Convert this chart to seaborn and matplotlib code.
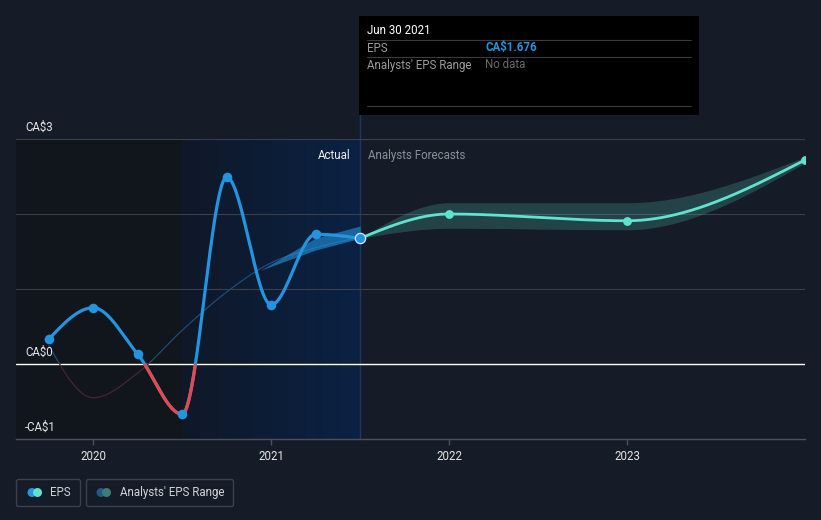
import numpy as np
import pandas as pd
import matplotlib
matplotlib.use("Agg")
import matplotlib.pyplot as plt
import seaborn as sns
from matplotlib.patches import Rectangle, FancyBboxPatch, Circle

# EPS history (quarter ends as decimal years)
eps_dates = [2019.75, 2020.0, 2020.25, 2020.5, 2020.75, 2021.0, 2021.25, 2021.5]
eps_vals = [0.33, 0.75, 0.13, -0.67, 2.49, 0.79, 1.73, 1.676]

# faint trailing line behind the EPS curve
trail_vals = [0.25, -0.45, -0.12, 0.45, 0.96, 1.35, 1.55, 1.69]

# analysts' range over the past (wedge)
past_band_dates = [2020.94, 2021.25, 2021.5]
past_band_low = [1.25, 1.52, 1.676]
past_band_high = [1.25, 1.68, 1.84]

# analysts' forecasts
fc_dates = [2021.5, 2022.0, 2023.0, 2024.0]
fc_vals = [1.676, 2.0, 1.91, 2.72]
fc_low = [1.676, 1.81, 1.79, 2.68]
fc_high = [1.676, 2.15, 2.15, 2.76]

year_ticks = [2020, 2021, 2022, 2023]
y_labels = {3: "CA$3", 0: "CA$0", -1: "-CA$1"}

BG = "#161c27"
BLUE = "#2394df"
RED = "#e5484d"
TEAL = "#5fe3cf"


def monotone(xs, ys, n=400):
    # monotone cubic curve (like d3 curveMonotoneX) for drawing
    x = np.asarray(xs, float)
    y = np.asarray(ys, float)
    h = np.diff(x)
    s = np.diff(y) / h
    m = np.zeros_like(y)
    for i in range(1, len(x) - 1):
        p = (s[i - 1] * h[i] + s[i] * h[i - 1]) / (h[i - 1] + h[i])
        m[i] = (np.sign(s[i - 1]) + np.sign(s[i])) * min(abs(s[i - 1]), abs(s[i]), 0.5 * abs(p))
    if len(x) > 2:
        m[0] = (3 * s[0] - m[1]) / 2
        m[-1] = (3 * s[-1] - m[-2]) / 2
    else:
        m[0] = m[-1] = s[0]
    out_x, out_y = [], []
    for i in range(len(x) - 1):
        t = np.linspace(0, 1, n)
        h00 = 2 * t**3 - 3 * t**2 + 1
        h10 = t**3 - 2 * t**2 + t
        h01 = -2 * t**3 + 3 * t**2
        h11 = t**3 - t**2
        out_x.append(x[i] + t * h[i])
        out_y.append(h00 * y[i] + h10 * h[i] * m[i] + h01 * y[i + 1] + h11 * h[i] * m[i + 1])
    return np.concatenate(out_x), np.concatenate(out_y)


sns.set_theme(style="dark")
plt.rcParams["font.family"] = ["Roboto", "DejaVu Sans"]

fig = plt.figure(figsize=(8.21, 5.2), dpi=100)
fig.patch.set_facecolor(BG)
ax = fig.add_axes([16 / 821, 81 / 520, 789 / 821, 300 / 520])
ax.set_facecolor(BG)
ax.set_xlim(2019.566, 2024.0)
ax.set_ylim(-1, 3)

# shaded periods
ax.axvspan(2019.566, 2020.5, color="#11151c", zorder=0, lw=0)
grad = np.linspace(0, 1, 256).reshape(1, -1)
cmap = matplotlib.colors.LinearSegmentedColormap.from_list("g", ["#0f1828", "#0b2244"])
ax.imshow(grad, extent=[2020.5, 2021.5, -1, 3], aspect="auto", cmap=cmap, zorder=0.5,
          interpolation="bilinear")
ax.axvline(2021.5, ymin=0, ymax=(439 - 115) / 300, color="#1a3760", lw=1, clip_on=False, zorder=1)

# grid
for v in [1, 2, 3]:
    ax.axhline(v, color="#3a404b", lw=0.8, zorder=1)
ax.axhline(0, color="white", lw=1, zorder=2)

# faint trailing line
tx, ty = monotone(eps_dates, trail_vals)
ax.plot(tx, np.where(ty >= 0, ty, np.nan), color="#1d4a78", lw=0.9, zorder=2)
ax.plot(tx, np.where(ty <= 0, ty, np.nan), color="#4a2530", lw=0.9, zorder=2)

# past range wedge
ax.fill_between(past_band_dates, past_band_low, past_band_high, color=BLUE, alpha=0.6, lw=0, zorder=3)

# forecast range band
bx, blow = monotone(fc_dates, fc_low)
_, bhigh = monotone(fc_dates, fc_high)
ax.fill_between(bx, blow, bhigh, color=TEAL, alpha=0.2, lw=0, zorder=3)

# EPS curve
ex, ey = monotone(eps_dates, eps_vals)
curve = pd.DataFrame({"x": ex, "y": ey})
sns.lineplot(data=curve, x="x", y="y", sort=False, estimator=None, color=BLUE, lw=2.3, ax=ax, zorder=4)
ax.plot(ex, np.where(ey < 0, ey, np.nan), color=RED, lw=2.3, zorder=4, solid_capstyle="butt")
pts = pd.DataFrame({"x": eps_dates[:-1], "y": eps_vals[:-1]})
sns.scatterplot(data=pts, x="x", y="y", color=BLUE, s=48, linewidth=0, ax=ax, zorder=6)

# forecast curve
fx, fy = monotone(fc_dates, fc_vals)
sns.lineplot(x=fx, y=fy, sort=False, estimator=None, color=TEAL, lw=2.0, ax=ax, zorder=5)
sns.scatterplot(x=fc_dates[1:], y=fc_vals[1:], color=TEAL, s=40, linewidth=0, ax=ax, zorder=6)
ax.scatter([eps_dates[-1]], [eps_vals[-1]], s=55, color=BLUE, edgecolor="#d8e8f8", linewidth=0.9, zorder=7)

# axes styling
for side in ["top", "right", "left"]:
    ax.spines[side].set_visible(False)
ax.spines["bottom"].set_color("#4b505a")
ax.spines["bottom"].set_linewidth(1)
ax.set_yticks([])
ax.set_xticks(year_ticks)
ax.set_xticklabels([str(y) for y in year_ticks])
ax.tick_params(axis="x", colors="#4b505a", length=4, width=1, pad=4, labelcolor="#e6e6e6", labelsize=8.3)
ax.tick_params(axis="x", which="both", bottom=True)
ax.set_xlabel("")
ax.set_ylabel("")
ax.grid(False)

for v, lab in y_labels.items():
    ax.annotate(lab, xy=(9 / 789, v), xycoords=("axes fraction", "data"), xytext=(0, 4),
                textcoords="offset points", va="bottom", ha="left", color="#e6e6e6", fontsize=8.3)

ax.annotate("Actual", xy=(2021.5, 3), xycoords="data", xytext=(-7, -12), textcoords="offset points",
            ha="right", va="center", color="#f0f0f0", fontsize=8.3)
ax.annotate("Analysts Forecasts", xy=(2021.5, 3), xycoords="data", xytext=(6, -12), textcoords="offset points",
            ha="left", va="center", color="#8b9099", fontsize=8.3)

# overlay in pixel units for tooltip and legend
ov = fig.add_axes([0, 0, 1, 1], zorder=10)
ov.set_xlim(0, 821)
ov.set_ylim(520, 0)
ov.axis("off")
ov.patch.set_alpha(0)

ov.add_patch(Rectangle((359, 16), 340, 99, color="black", lw=0))
ov.text(367, 31, "Jun 30 2021", color="white", fontsize=8.3, va="center")
for yy in [40, 57, 106]:
    ov.plot([367, 691], [yy, yy], color="#3b3b3b", lw=0.8)
ov.text(367, 48, "EPS", color="#9c9c9c", fontsize=8.3, va="center")
ov.text(485, 48, "CA$1.676", color=BLUE, fontsize=8.3, va="center", fontweight="bold")
ov.text(367, 65, "Analysts' EPS Range", color="#9c9c9c", fontsize=8.3, va="center")
ov.text(485, 65, "No data", color="#6b6b6b", fontsize=8.3, va="center")

# legend
ov.add_patch(FancyBboxPatch((16.5, 479.5), 64, 27, boxstyle="round,pad=0,rounding_size=2",
                            fc="none", ec="#3b404b", lw=1))
ov.add_patch(FancyBboxPatch((86.5, 479.5), 147, 27, boxstyle="round,pad=0,rounding_size=2",
                            fc="none", ec="#3b404b", lw=1))
ov.add_patch(Circle((32, 492.5), 4.5, color=BLUE, lw=0))
ov.add_patch(Circle((37.5, 492.5), 4.5, color=TEAL, lw=0))
ov.add_patch(Circle((101, 492.5), 4.5, color="#1f5a88", lw=0))
ov.add_patch(Circle((106.5, 492.5), 4.5, color="#3d7c79", lw=0))
ov.text(50, 492.5, "EPS", color="#d0d3d8", fontsize=8.3, va="center")
ov.text(120, 492.5, "Analysts' EPS Range", color="#d0d3d8", fontsize=8.3, va="center")

fig.savefig("out.png", dpi=100, facecolor=BG)
